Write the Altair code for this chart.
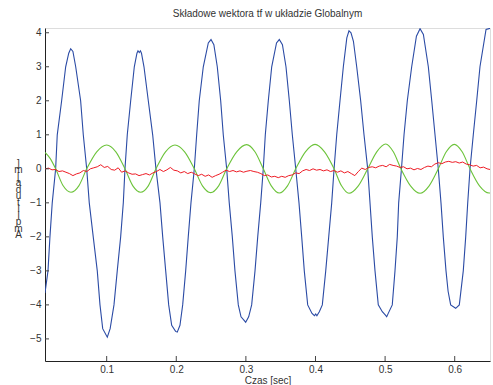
import altair as alt
import pandas as pd

# ---- data ----
blue_t = [0.0114, 0.0157, 0.0185, 0.0218, 0.0267, 0.0290, 0.0353, 0.0411, 0.0455, 0.0483,
          0.0515, 0.0555, 0.0626, 0.0664, 0.0713, 0.0750, 0.0807, 0.0865, 0.0904, 0.0943,
          0.1009, 0.1050, 0.1105, 0.1152, 0.1201, 0.1239, 0.1263, 0.1296, 0.1345, 0.1397,
          0.1435, 0.1450, 0.1468, 0.1485, 0.1500, 0.1536, 0.1598, 0.1661, 0.1708, 0.1766,
          0.1805, 0.1848, 0.1891, 0.1934, 0.1990, 0.2014, 0.2053, 0.2092, 0.2135, 0.2172,
          0.2211, 0.2259, 0.2293, 0.2330, 0.2388, 0.2460, 0.2499, 0.2540, 0.2589, 0.2638,
          0.2675, 0.2724, 0.2761, 0.2805, 0.2843, 0.2891, 0.2930, 0.2997, 0.3040, 0.3083,
          0.3131, 0.3170, 0.3213, 0.3250, 0.3279, 0.3322, 0.3371, 0.3440, 0.3480, 0.3525,
          0.3576, 0.3624, 0.3667, 0.3716, 0.3763, 0.3802, 0.3839, 0.3888, 0.3950, 0.3985,
          0.4003, 0.4020, 0.4055, 0.4098, 0.4147, 0.4190, 0.4233, 0.4267, 0.4305, 0.4352,
          0.4400, 0.4450, 0.4481, 0.4510, 0.4545, 0.4592, 0.4649, 0.4697, 0.4750, 0.4783,
          0.4816, 0.4855, 0.4902, 0.4960, 0.5005, 0.5023, 0.5045, 0.5103, 0.5142, 0.5175,
          0.5195, 0.5235, 0.5272, 0.5319, 0.5382, 0.5450, 0.5502, 0.5550, 0.5621, 0.5670,
          0.5717, 0.5764, 0.5803, 0.5836, 0.5875, 0.5905, 0.5942, 0.6014, 0.6066, 0.6123,
          0.6158, 0.6187, 0.6220, 0.6267, 0.6316, 0.6363, 0.6450, 0.6507]
blue_v = [-3.65, -3.0, -2.0, -1.0, 0.0, 1.0, 2.0, 3.0, 3.4, 3.53,
          3.45, 3.0, 2.0, 1.0, 0.0, -1.0, -2.0, -3.0, -4.0, -4.7,
          -4.95, -4.7, -4.0, -3.0, -2.0, -1.0, 0.0, 1.0, 2.0, 3.0,
          3.4, 3.47, 3.42, 3.47, 3.4, 3.0, 2.0, 1.0, 0.0, -1.0,
          -2.0, -3.0, -4.0, -4.6, -4.78, -4.8, -4.6, -4.0, -3.0, -2.0,
          -1.0, 0.0, 1.0, 2.0, 3.0, 3.7, 3.8, 3.65, 3.0, 2.0,
          1.0, 0.0, -1.0, -2.0, -3.0, -4.0, -4.35, -4.51, -4.35, -4.0,
          -3.0, -2.0, -1.0, 0.0, 1.0, 2.0, 3.0, 3.7, 3.8, 3.65,
          3.0, 2.0, 1.0, 0.0, -1.0, -2.0, -3.0, -4.0, -4.25, -4.32,
          -4.27, -4.32, -4.2, -4.0, -3.0, -2.0, -1.0, 0.0, 1.0, 2.0,
          3.0, 3.85, 4.06, 4.0, 3.75, 3.0, 2.0, 1.0, 0.0, -1.0,
          -2.0, -3.0, -4.0, -4.2, -4.3, -4.35, -4.25, -4.0, -3.0, -2.0,
          -1.0, 0.0, 1.0, 2.0, 3.0, 3.9, 4.12, 3.95, 3.0, 2.0,
          1.0, 0.0, -1.0, -2.0, -3.0, -3.6, -4.0, -4.1, -4.0, -3.0,
          -2.0, -1.0, 0.0, 1.0, 2.0, 3.0, 4.1, 4.13]

green_t = [0.0114, 0.0190, 0.0267, 0.0375, 0.0487, 0.0600, 0.0713, 0.0857, 0.1000, 0.1132,
           0.1263, 0.1376, 0.1489, 0.1598, 0.1708, 0.1845, 0.1981, 0.2120, 0.2259, 0.2376,
           0.2494, 0.2609, 0.2724, 0.2868, 0.3011, 0.3130, 0.3250, 0.3365, 0.3480, 0.3598,
           0.3716, 0.3855, 0.3993, 0.4130, 0.4267, 0.4374, 0.4481, 0.4615, 0.4750, 0.4880,
           0.5009, 0.5118, 0.5228, 0.5365, 0.5502, 0.5633, 0.5764, 0.5879, 0.5994, 0.6107,
           0.6220, 0.6356, 0.6493, 0.6507]
green_v = [0.48, 0.30, 0.0, -0.50, -0.69, -0.50, 0.0, 0.50, 0.70, 0.50,
           0.0, -0.50, -0.69, -0.50, 0.0, 0.50, 0.70, 0.50, 0.0, -0.50,
           -0.70, -0.50, 0.0, 0.50, 0.71, 0.50, 0.0, -0.50, -0.71, -0.50,
           0.0, 0.50, 0.72, 0.50, 0.0, -0.50, -0.72, -0.50, 0.0, 0.50,
           0.73, 0.50, 0.0, -0.50, -0.72, -0.50, 0.0, 0.50, 0.72, 0.50,
           0.0, -0.50, -0.71, -0.71]

red_t = [0.0115, 0.0165, 0.0215, 0.0265, 0.0315, 0.0365, 0.0415, 0.0465, 0.0515, 0.0565,
         0.0615, 0.0665, 0.0715, 0.0765, 0.0815, 0.0865, 0.0915, 0.0965, 0.1015, 0.1065,
         0.1115, 0.1165, 0.1215, 0.1265, 0.1315, 0.1365, 0.1415, 0.1465, 0.1515, 0.1565,
         0.1615, 0.1665, 0.1715, 0.1765, 0.1815, 0.1865, 0.1915, 0.1965, 0.2015, 0.2065,
         0.2115, 0.2165, 0.2215, 0.2265, 0.2315, 0.2365, 0.2415, 0.2465, 0.2515, 0.2565,
         0.2615, 0.2665, 0.2715, 0.2765, 0.2815, 0.2865, 0.2915, 0.2965, 0.3015, 0.3065,
         0.3115, 0.3165, 0.3215, 0.3265, 0.3315, 0.3365, 0.3415, 0.3465, 0.3515, 0.3565,
         0.3615, 0.3665, 0.3715, 0.3765, 0.3815, 0.3865, 0.3915, 0.3965, 0.4015, 0.4065,
         0.4115, 0.4165, 0.4215, 0.4265, 0.4315, 0.4365, 0.4415, 0.4465, 0.4515, 0.4565,
         0.4615, 0.4665, 0.4715, 0.4765, 0.4815, 0.4865, 0.4915, 0.4965, 0.5015, 0.5065,
         0.5115, 0.5165, 0.5215, 0.5265, 0.5315, 0.5365, 0.5415, 0.5465, 0.5515, 0.5565,
         0.5615, 0.5665, 0.5715, 0.5765, 0.5815, 0.5865, 0.5915, 0.5965, 0.6015, 0.6065,
         0.6115, 0.6165, 0.6215, 0.6265, 0.6315, 0.6365, 0.6415, 0.6465, 0.6507]
red_v = [0.00, 0.02, -0.03, -0.02, -0.08, -0.06, -0.10, -0.14, -0.20, -0.15,
         -0.12, -0.05, -0.08, 0.00, 0.03, 0.06, 0.12, 0.04, 0.07, -0.02,
         -0.04, 0.03, -0.10, -0.06, -0.12, -0.16, -0.15, -0.20, -0.17, -0.14,
         -0.18, -0.12, -0.08, -0.02, -0.08, -0.03, 0.04, -0.04, -0.06, -0.12,
         -0.08, -0.14, -0.10, -0.15, -0.20, -0.16, -0.22, -0.18, -0.25, -0.20,
         -0.16, -0.10, -0.04, -0.08, -0.05, -0.09, -0.06, -0.10, -0.07, -0.05,
         -0.08, -0.10, -0.14, -0.20, -0.18, -0.24, -0.22, -0.26, -0.22, -0.25,
         -0.20, -0.18, -0.12, -0.14, -0.06, -0.02, -0.05, 0.00, -0.04, -0.02,
         -0.06, -0.03, -0.08, -0.05, -0.10, -0.06, -0.12, -0.08, -0.14, -0.20,
         -0.08, 0.02, -0.02, 0.04, 0.06, 0.03, 0.08, 0.10, 0.06, 0.13,
         0.10, 0.08, 0.04, 0.06, 0.00, 0.02, -0.03, 0.01, -0.02, 0.04,
         0.08, 0.06, 0.14, 0.18, 0.15, 0.20, 0.22, 0.19, 0.21, 0.17,
         0.20, 0.14, 0.12, 0.08, 0.10, 0.03, 0.05, 0.00, -0.02]

x_ticks = [0.1, 0.2, 0.3, 0.4, 0.5, 0.6]
y_ticks = [-5, -4, -3, -2, -1, 0, 1, 2, 3, 4]

title_text = "Składowe wektora tf w układzie Globalnym"
x_title = "Czas [sec]"
y_title_chars = ["]", "m", "[", " ", "a", "d", "u", "t", "i", "l", "p", "m", "A"]

x_domain = [0.0114, 0.6507]
y_domain = [-5.65, 4.14]

FONT = "Liberation Sans"

blue_df = pd.DataFrame({"t": blue_t, "v": blue_v})
green_df = pd.DataFrame({"t": green_t, "v": green_v})
red_df = pd.DataFrame({"t": red_t, "v": red_v})
xt_df = pd.DataFrame({"t": x_ticks})
yt_df = pd.DataFrame({"v": y_ticks})

xs = alt.Scale(domain=x_domain, nice=False, zero=False)
ys = alt.Scale(domain=y_domain, nice=False, zero=False)

x_axis = alt.Axis(values=x_ticks, format=".1f", ticks=False, grid=False,
                  labelOverlap=False, labelFlush=False,
                  domainColor="#222", labelColor="#333", labelFontSize=10,
                  labelFont=FONT, labelPadding=3, title=x_title, titleFont=FONT,
                  titleFontSize=10, titleFontWeight="normal", titleColor="#333",
                  titlePadding=1)
y_axis = alt.Axis(values=y_ticks, format="d", ticks=False, grid=False, domainColor="#222",
                  labelOverlap=False, labelFlush=False,
                  labelColor="#333", labelFontSize=10, labelFont=FONT, labelPadding=4,
                  title=y_title_chars, titleAngle=0, titleFont=FONT, titleFontSize=10,
                  titleFontWeight="normal", titleColor="#333", titleLineHeight=6.5,
                  titleAlign="center", titleBaseline="top", titleX=-27, titleY=130)

X = alt.X("t:Q", scale=xs, axis=x_axis)
Y = alt.Y("v:Q", scale=ys, axis=y_axis)

blue = alt.Chart(blue_df).mark_line(color="#2b4ba5", strokeWidth=1.1, clip=True).encode(
    x=X, y=Y)
green = alt.Chart(green_df).mark_line(color="#6cc33a", strokeWidth=1.1, clip=True,
                                      interpolate="monotone").encode(x=X, y=Y)
red = alt.Chart(red_df).mark_line(color="#ee1c25", strokeWidth=1.0, clip=True).encode(
    x=X, y=Y)

xticks = alt.Chart(xt_df).mark_rule(color="#444", strokeWidth=1).encode(
    x=X, y=alt.value(333), y2=alt.value(328))
yticks = alt.Chart(yt_df).mark_rule(color="#444", strokeWidth=1).encode(
    y=Y, x=alt.value(0), x2=alt.value(4))

chart = alt.layer(blue, green, red, xticks, yticks).properties(
    width=445, height=333,
    autosize=alt.AutoSizeParams(type="none"),
    padding={"left": 45, "top": 28, "right": 3, "bottom": 24},
    title=alt.TitleParams(title_text, font=FONT, fontSize=10, fontWeight="normal",
                          color="#333", offset=9, anchor="middle"),
).configure_view(strokeOpacity=0).configure(background="white")

chart.save("out.html", embed_options={"renderer": "svg", "actions": False})
